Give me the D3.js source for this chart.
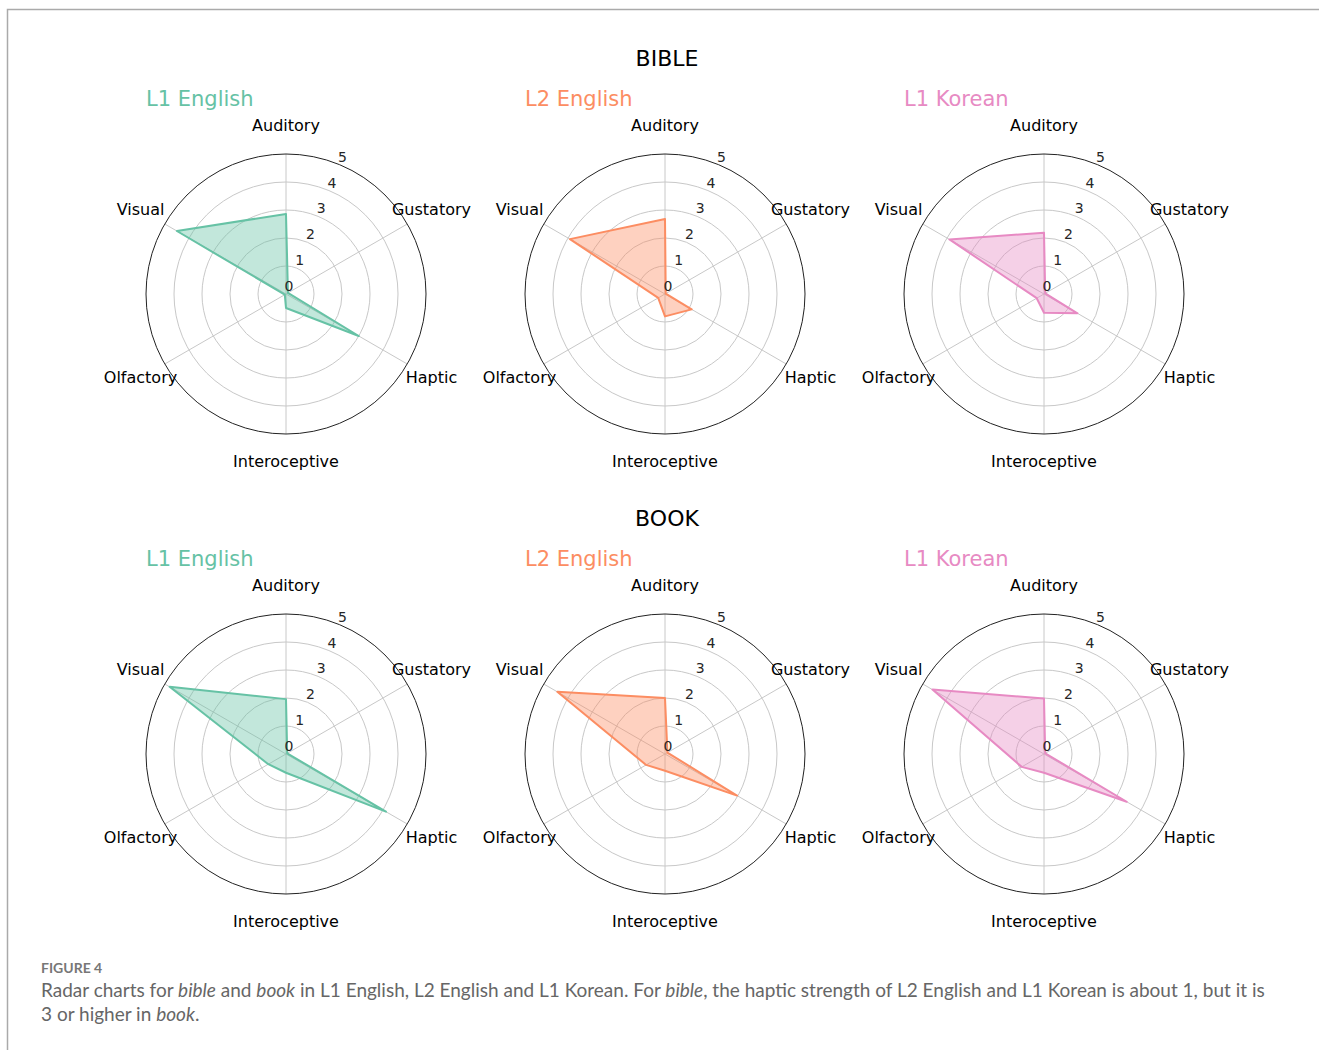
<!DOCTYPE html>
<html>
<head>
<meta charset="utf-8">
<script src="https://cdn.jsdelivr.net/npm/d3@7"></script>
<style>
  body { margin: 0; background: #fff; }
  svg { display: block; }
</style>
</head>
<body>
<script>
// categories of the radar
const senses = ["Auditory", "Gustatory", "Haptic", "Interoceptive", "Olfactory", "Visual"];
const groups = ["L1 English", "L2 English", "L1 Korean"];
const words = ["BIBLE", "BOOK"];
const ticks = [0, 1, 2, 3, 4, 5];

// values, same order as senses
const bibleL1English = [2.86, 0.08, 3.0, 0.5, 0.05, 4.5];
const bibleL2English = [2.68, 0.03, 1.1, 0.8, 0.28, 3.92];
const bibleL1Korean  = [2.19, 0.05, 1.38, 0.67, 0.3, 3.9];
const bookL1English  = [1.96, 0.05, 4.12, 0.67, 0.73, 4.8];
const bookL2English  = [2.0, 0.1, 2.97, 0.6, 0.78, 4.44];
const bookL1Korean   = [1.98, 0.05, 3.41, 0.67, 0.92, 4.6];

const colors = ["#66c2a5", "#fc8d62", "#e78ac3"];

const panels = [
    [bibleL1English, bibleL2English, bibleL1Korean],
    [bookL1English, bookL2English, bookL1Korean]
];

const W = 1319, H = 1050;
const R = 140;
const colX = [286, 665, 1044];
const rowY = [294, 754];

const svg = d3.select("body").append("svg")
    .attr("width", W)
    .attr("height", H);

// frame round the figure
svg.append("path")
    .attr("d", `M7.5,${H} L7.5,9.5 L${W},9.5`)
    .attr("fill", "none")
    .attr("stroke", "#aaa")
    .attr("stroke-width", 1.5);

const r = d3.scaleLinear().domain([0, 5]).range([0, R]);
const angle = d3.scaleLinear().domain([0, senses.length]).range([0, 2 * Math.PI]);

const radar = d3.lineRadial()
    .angle((d, i) => angle(i))
    .radius(d => r(d))
    .curve(d3.curveLinearClosed);

const font = "DejaVu Sans, sans-serif";

words.forEach((word, row) => {
    svg.append("text")
        .attr("x", 667)
        .attr("y", rowY[row] - 228)
        .attr("text-anchor", "middle")
        .style("font-family", font)
        .style("font-size", "22px")
        .style("fill", "#000")
        .text(word);

    groups.forEach((grp, col) => {
        const g = svg.append("g")
            .attr("transform", "translate(" + colX[col] + "," + rowY[row] + ")");

        // grid circles
        g.selectAll("circle.grid")
            .data(ticks.slice(1, -1))
            .enter()
            .append("circle")
            .attr("r", d => r(d))
            .attr("fill", "none")
            .attr("stroke", "#c8c8c8")
            .attr("stroke-width", 1);

        // spokes
        g.selectAll("line.spoke")
            .data(senses)
            .enter()
            .append("line")
            .attr("x1", 0).attr("y1", 0)
            .attr("x2", (d, i) => r(5) * Math.sin(angle(i)))
            .attr("y2", (d, i) => -r(5) * Math.cos(angle(i)))
            .attr("stroke", "#c8c8c8")
            .attr("stroke-width", 1);

        // outer frame
        g.append("circle")
            .attr("r", r(5))
            .attr("fill", "none")
            .attr("stroke", "#222")
            .attr("stroke-width", 1);

        // data
        const vals = panels[row][col];
        g.append("path")
            .attr("d", radar(vals))
            .attr("fill", colors[col])
            .attr("fill-opacity", 0.4)
            .attr("stroke", colors[col])
            .attr("stroke-width", 2)
            .attr("stroke-linejoin", "round");

        // radial tick labels
        const ta = 22.5 * Math.PI / 180;
        g.selectAll("text.tick")
            .data(ticks)
            .enter()
            .append("text")
            .attr("x", d => r(d) * Math.sin(ta) + 3)
            .attr("y", d => -r(d) * Math.cos(ta) - 8)
            .attr("text-anchor", "middle")
            .attr("dominant-baseline", "central")
            .style("font-family", font)
            .style("font-size", "14px")
            .style("fill", "#262626")
            .text(d => d);

        // sense labels
        g.selectAll("text.sense")
            .data(senses)
            .enter()
            .append("text")
            .attr("x", (d, i) => 168 * Math.sin(angle(i)))
            .attr("y", (d, i) => -168 * Math.cos(angle(i)) - 1)
            .attr("text-anchor", "middle")
            .attr("dominant-baseline", "central")
            .style("font-family", font)
            .style("font-size", "16px")
            .style("fill", "#000")
            .text(d => d);

        // panel title
        g.append("text")
            .attr("x", -R)
            .attr("y", -188)
            .style("font-family", font)
            .style("font-size", "21px")
            .style("fill", colors[col])
            .text(grp);
    });
});

// caption
svg.append("text")
    .attr("x", 41)
    .attr("y", 973)
    .style("font-family", "Lato, sans-serif")
    .style("font-size", "14px")
    .style("font-weight", "bold")
    .style("fill", "#777")
    .text("FIGURE 4");

const cap1 = svg.append("text")
    .attr("x", 41)
    .attr("y", 997)
    .style("font-family", "Lato, sans-serif")
    .style("font-size", "19px")
    .style("fill", "#666");
[["Radar charts for ", false], ["bible", true], [" and ", false], ["book", true],
 [" in L1 English, L2 English and L1 Korean. For ", false], ["bible", true],
 [", the haptic strength of L2 English and L1 Korean is about 1, but it is", false]]
    .forEach(p => cap1.append("tspan").style("font-style", p[1] ? "italic" : "normal").text(p[0]));

const cap2 = svg.append("text")
    .attr("x", 41)
    .attr("y", 1021)
    .style("font-family", "Lato, sans-serif")
    .style("font-size", "19px")
    .style("fill", "#666");
[["3 or higher in ", false], ["book", true], [".", false]]
    .forEach(p => cap2.append("tspan").style("font-style", p[1] ? "italic" : "normal").text(p[0]));
</script>
</body>
</html>
